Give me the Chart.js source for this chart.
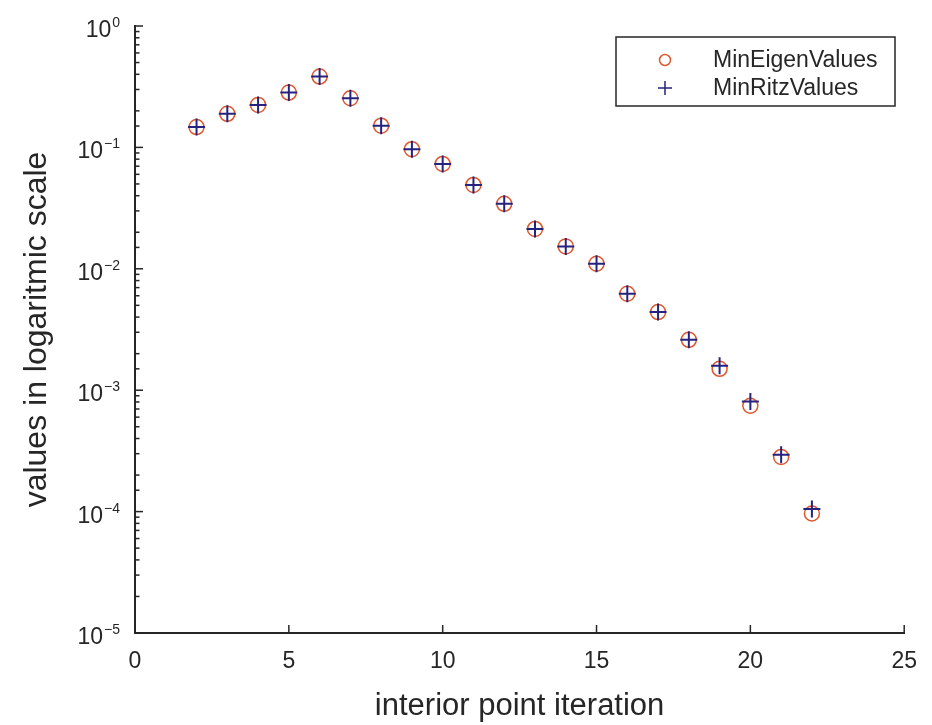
<!DOCTYPE html>
<html>
<head>
<meta charset="utf-8">
<script src="https://cdn.jsdelivr.net/npm/chart.js@4"></script>
<style>
  html, body { margin: 0; padding: 0; background: #fff; }
  #wrap { width: 932px; height: 725px; }
</style>
</head>
<body>
<div id="wrap"><canvas id="chart1" width="932" height="725"></canvas></div>
<script>
const iterations = [2, 3, 4, 5, 6, 7, 8, 9, 10, 11, 12, 13, 14, 15, 16, 17, 18, 19, 20, 21, 22];
const minEigenValues = [0.147, 0.189, 0.224, 0.283, 0.383, 0.254, 0.151, 0.0967, 0.0731, 0.0491, 0.0343,
  0.0213, 0.0153, 0.0110, 0.00623, 0.00440, 0.00260, 0.00150, 0.000745, 0.000282, 0.0000964];
const minRitzValues = [0.147, 0.189, 0.224, 0.283, 0.383, 0.254, 0.151, 0.0967, 0.0731, 0.0491, 0.0343,
  0.0213, 0.0153, 0.0110, 0.00623, 0.00440, 0.00260, 0.00159, 0.000809, 0.000294, 0.000105];
const seriesLabels = ['MinEigenValues', 'MinRitzValues'];
const xTicks = [0, 5, 10, 15, 20, 25];
const yDecades = [-5, -4, -3, -2, -1, 0];

const fontFamily = "'Liberation Sans', Arial, Helvetica, sans-serif";
const axisColor = '#262626';
const eigenColor = '#E0582F';
const ritzColor = '#26237F';

// ticks inside the axes, 10^n labels and the boxed legend
const axesPlugin = {
  id: 'axesPlugin',
  afterDraw(chart) {
    const ctx = chart.ctx;
    const area = chart.chartArea;
    const xs = chart.scales.x;
    const ys = chart.scales.y;
    ctx.save();
    ctx.strokeStyle = axisColor;
    ctx.lineWidth = 1.5;

    xTicks.forEach(v => {
      const px = xs.getPixelForValue(v);
      ctx.beginPath();
      ctx.moveTo(px, area.bottom);
      ctx.lineTo(px, area.bottom - 8);
      ctx.stroke();
    });

    ys.ticks.forEach(t => {
      const py = ys.getPixelForValue(t.value);
      const lg = Math.log10(t.value);
      const major = Math.abs(lg - Math.round(lg)) < 1e-6;
      ctx.beginPath();
      ctx.moveTo(area.left, py);
      ctx.lineTo(area.left + (major ? 8 : 4.5), py);
      ctx.stroke();
    });

    ctx.fillStyle = axisColor;
    ctx.textBaseline = 'alphabetic';
    yDecades.forEach(d => {
      const py = ys.getPixelForValue(Math.pow(10, d));
      const expText = d < 0 ? '\u2212' + Math.abs(d) : String(d);
      ctx.font = '14px ' + fontFamily;
      ctx.textAlign = 'right';
      const right = area.left - 15;
      ctx.fillText(expText, right, py + 1);
      const w = ctx.measureText(expText).width;
      ctx.font = '23px ' + fontFamily;
      ctx.fillText('10', right - w - 1, py + 11);
    });

    // legend
    const lx = 616, ly = 37, lw = 279, lh = 69;
    ctx.fillStyle = '#fff';
    ctx.fillRect(lx, ly, lw, lh);
    ctx.lineWidth = 1.5;
    ctx.strokeRect(lx, ly, lw, lh);
    const rows = [ly + 23, ly + 51];
    ctx.strokeStyle = eigenColor;
    ctx.beginPath();
    ctx.arc(665, rows[0], 5.5, 0, Math.PI * 2);
    ctx.stroke();
    ctx.strokeStyle = ritzColor;
    ctx.beginPath();
    ctx.moveTo(658, rows[1]); ctx.lineTo(672, rows[1]);
    ctx.moveTo(665, rows[1] - 7); ctx.lineTo(665, rows[1] + 7);
    ctx.stroke();
    ctx.fillStyle = axisColor;
    ctx.font = '23px ' + fontFamily;
    ctx.textAlign = 'left';
    ctx.textBaseline = 'middle';
    seriesLabels.forEach((s, i) => ctx.fillText(s, 713, rows[i] + 1));
    ctx.restore();
  }
};

const ctx1 = document.getElementById('chart1').getContext('2d');
const myChart = new Chart(ctx1, {
  type: 'scatter',
  data: {
    datasets: [{
      label: seriesLabels[0],
      data: iterations.map((x, i) => ({ x: x, y: minEigenValues[i] })),
      pointStyle: 'circle',
      pointRadius: 7.5,
      pointBorderWidth: 1.5,
      borderColor: eigenColor,
      backgroundColor: 'rgba(0,0,0,0)',
      order: 2
    }, {
      label: seriesLabels[1],
      data: iterations.map((x, i) => ({ x: x, y: minRitzValues[i] })),
      pointStyle: 'cross',
      pointRadius: 8.5,
      pointBorderWidth: 2,
      borderColor: ritzColor,
      backgroundColor: ritzColor,
      order: 1
    }]
  },
  options: {
    responsive: false,
    animation: false,
    layout: { padding: { left: 0, top: 26, right: 27, bottom: 0 } },
    plugins: {
      legend: { display: false },
      tooltip: { enabled: false }
    },
    scales: {
      x: {
        type: 'linear',
        min: 0,
        max: 25,
        afterBuildTicks: (scale) => { scale.ticks = xTicks.map(v => ({ value: v })); },
        afterFit: (scale) => { scale.height = 92; },
        grid: { display: false, drawTicks: false },
        border: { display: true, color: axisColor, width: 2 },
        ticks: { color: axisColor, font: { family: fontFamily, size: 23 }, padding: 15, maxRotation: 0 },
        title: {
          display: true,
          text: 'interior point iteration',
          color: axisColor,
          font: { family: fontFamily, size: 31 },
          padding: { top: 0, bottom: 0 }
        }
      },
      y: {
        type: 'logarithmic',
        min: 1e-5,
        max: 1,
        afterFit: (scale) => { scale.width = 135; },
        grid: { display: false, drawTicks: false },
        border: { display: true, color: axisColor, width: 2 },
        ticks: { display: false },
        title: {
          display: true,
          text: 'values in logaritmic scale',
          color: axisColor,
          font: { family: fontFamily, size: 32 },
          padding: { top: 18, bottom: 0 }
        }
      }
    }
  },
  plugins: [axesPlugin]
});
</script>
</body>
</html>
